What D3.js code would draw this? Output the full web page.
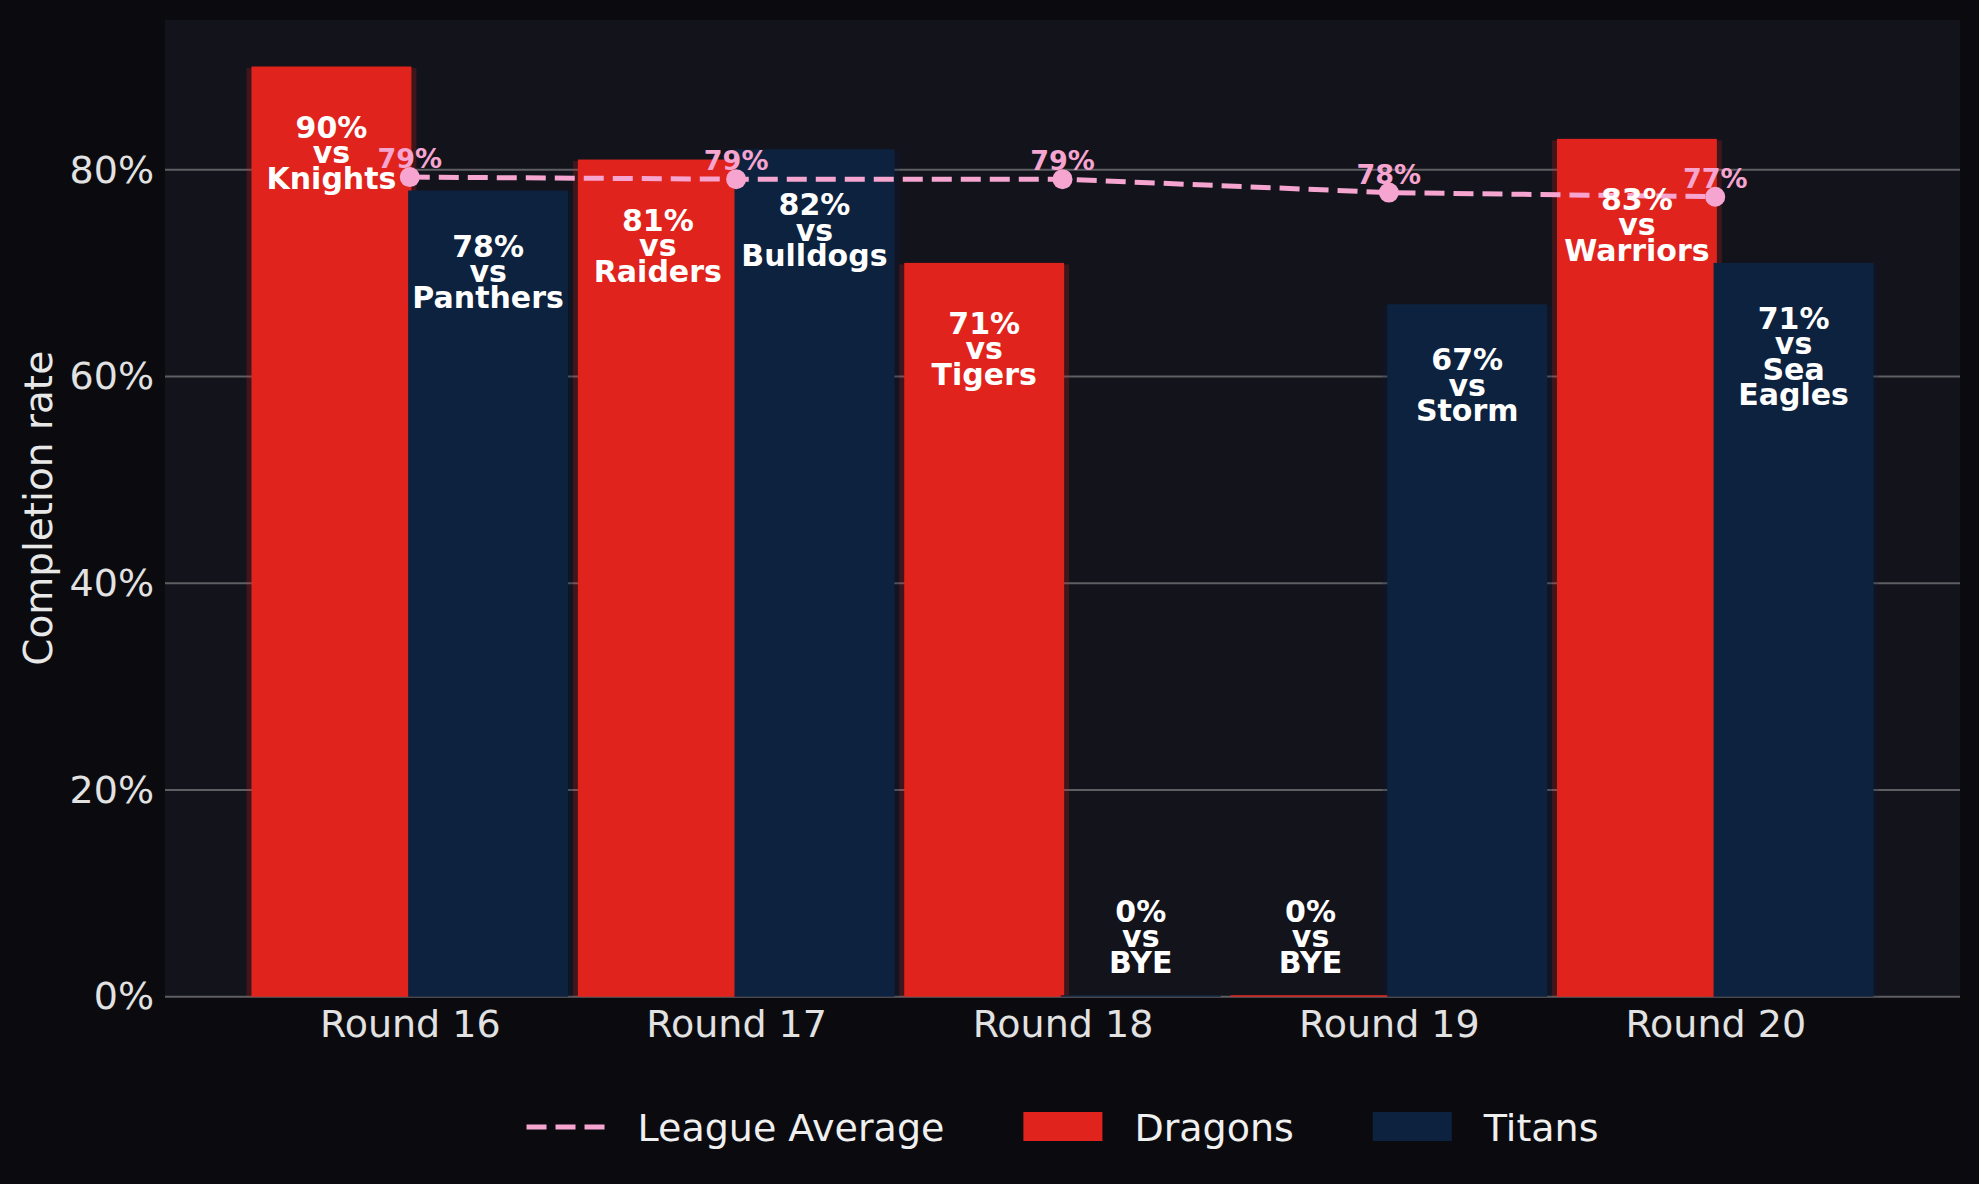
<!DOCTYPE html>
<html>
<head>
<meta charset="utf-8">
<script src="https://cdn.jsdelivr.net/npm/d3@7"></script>
<style>
  html, body { margin: 0; padding: 0; background: #0b0b0f; }
  svg { display: block; font-family: 'DejaVu Sans', sans-serif; }
</style>
</head>
<body>
<div id="chart"></div>
<script>
// datos del grafico
const rounds = ['Round 16', 'Round 17', 'Round 18', 'Round 19', 'Round 20']
const dragons = [90, 81, 71, 0, 83]
const titans = [78, 82, 0, 67, 71]
const dragonsOpp = ['Knights', 'Raiders', 'Tigers', 'BYE', 'Warriors']
const titansOpp = ['Panthers', 'Bulldogs', 'BYE', 'Storm', 'Sea Eagles']
const leagueAvg = [79.3, 79.1, 79.1, 77.8, 77.4]
const yTicks = [0, 20, 40, 60, 80]

// constantes
const width = 1979
const height = 1184
const plot = { left: 165, right: 1960, top: 20, bottom: 996.7 }
const red = '#e0231c'
const navy = '#0d223e'
const pink = '#f5a5cf'
const barWidth = 0.49
const offset = 0.24

const svg = d3.select('#chart')
    .append('svg')
    .attr('width', width)
    .attr('height', height)

svg.append('rect')
    .attr('width', width)
    .attr('height', height)
    .attr('fill', '#0b0b0f')

// escalas
const x = d3.scaleLinear()
    .domain([-0.75, 4.75])
    .range([plot.left, plot.right])

const y = d3.scaleLinear()
    .domain([0, 94.5])
    .range([plot.bottom, plot.top])

// fondo del area
svg.append('rect')
    .attr('x', plot.left)
    .attr('y', plot.top)
    .attr('width', plot.right - plot.left)
    .attr('height', plot.bottom - plot.top)
    .attr('fill', '#12131b')

// lineas de la rejilla
svg.append('g')
    .selectAll('line')
    .data(yTicks)
    .enter()
    .append('line')
    .attr('x1', plot.left)
    .attr('x2', plot.right)
    .attr('y1', d => y(d))
    .attr('y2', d => y(d))
    .attr('stroke', '#5f5f63')
    .attr('stroke-width', 2)

// ejes
const axisY = d3.axisLeft(y)
    .tickValues(yTicks)
    .tickFormat(d => d + '%')
    .tickSize(0)
    .tickPadding(11)

const gY = svg.append('g')
    .attr('transform', `translate(${plot.left}, 0)`)
    .call(axisY)

const axisX = d3.axisBottom(x)
    .tickValues(d3.range(rounds.length))
    .tickFormat(i => rounds[i])
    .tickSize(0)
    .tickPadding(13)

const gX = svg.append('g')
    .attr('transform', `translate(0, ${plot.bottom})`)
    .call(axisX)

;[gX, gY].forEach(g => {
    g.select('.domain').remove()
    g.selectAll('text')
        .attr('font-size', 38)
        .attr('font-family', 'DejaVu Sans')
        .attr('fill', '#e2e2e2')
})

svg.append('text')
    .attr('transform', `translate(52, ${(plot.top + plot.bottom) / 2}) rotate(-90)`)
    .attr('text-anchor', 'middle')
    .attr('font-size', 39)
    .attr('fill', '#e8e8e8')
    .text('Completion rate')

// barras
const series = [
    { name: 'Dragons', values: dragons, opp: dragonsOpp, color: red, shift: -offset, labelOff: 71 },
    { name: 'Titans', values: titans, opp: titansOpp, color: navy, shift: offset, labelOff: 66 }
]

const bw = x(barWidth) - x(0)

// sombras primero
series.forEach(s => {
    svg.append('g')
        .selectAll('rect')
        .data(s.values)
        .enter()
        .append('rect')
        .attr('x', (d, i) => x(i + s.shift) - bw / 2 - 5)
        .attr('y', d => y(d) + 1.5)
        .attr('width', bw + 10)
        .attr('height', d => Math.max(0, plot.bottom - y(d) - 1.5))
        .attr('fill', s.color)
        .attr('opacity', 0.22)
})

series.forEach(s => {
    svg.append('g')
        .selectAll('rect')
        .data(s.values)
        .enter()
        .append('rect')
        .attr('x', (d, i) => x(i + s.shift) - bw / 2)
        .attr('y', d => d > 0 ? y(d) : plot.bottom - 1.5)
        .attr('width', bw)
        .attr('height', d => d > 0 ? plot.bottom - y(d) : 1.5)
        .attr('fill', s.color)
})

// linea de la media
const line = d3.line()
    .x((d, i) => x(i))
    .y(d => y(d))

svg.append('path')
    .datum(leagueAvg)
    .attr('d', line)
    .attr('fill', 'none')
    .attr('stroke', pink)
    .attr('stroke-width', 5)
    .attr('stroke-dasharray', '20,9')

svg.append('g')
    .selectAll('circle')
    .data(leagueAvg)
    .enter()
    .append('circle')
    .attr('cx', (d, i) => x(i))
    .attr('cy', d => y(d))
    .attr('r', 10)
    .attr('fill', pink)

svg.append('g')
    .selectAll('text')
    .data(leagueAvg)
    .enter()
    .append('text')
    .attr('x', (d, i) => x(i))
    .attr('y', d => y(d) - 9)
    .attr('text-anchor', 'middle')
    .attr('font-size', 27)
    .attr('font-weight', 'bold')
    .attr('fill', pink)
    .text(d => Math.round(d) + '%')

// etiquetas de las barras
series.forEach(s => {
    const labels = svg.append('g')
        .selectAll('text')
        .data(s.values)
        .enter()
        .append('text')
        .attr('text-anchor', 'middle')
        .attr('font-size', 30)
        .attr('font-weight', 'bold')
        .attr('fill', '#ffffff')
        .attr('transform', (d, i) => {
            const top = d > 0 ? y(d) + s.labelOff : plot.bottom - 75
            return `translate(${x(i + s.shift)}, ${top})`
        })

    labels.each(function (d, i) {
        const lines = [d + '%', 'vs'].concat(s.opp[i].split(' '))
        d3.select(this)
            .selectAll('tspan')
            .data(lines)
            .enter()
            .append('tspan')
            .attr('x', 0)
            .attr('y', (t, k) => k * 25.5)
            .text(t => t)
    })
})

// leyenda
const legend = svg.append('g')
const items = [
    { label: 'League Average', type: 'line', color: pink },
    { label: 'Dragons', type: 'rect', color: red },
    { label: 'Titans', type: 'rect', color: navy }
]
const handleW = 79
const handleGap = 32
const itemGap = 79
const legendY = 1127

let cursor = 0
items.forEach(it => {
    const g = legend.append('g').attr('transform', `translate(${cursor}, 0)`)
    if (it.type === 'line') {
        g.append('line')
            .attr('x1', 0)
            .attr('x2', handleW)
            .attr('y1', 0)
            .attr('y2', 0)
            .attr('stroke', it.color)
            .attr('stroke-width', 5)
            .attr('stroke-dasharray', '20,9')
    } else {
        g.append('rect')
            .attr('x', 0)
            .attr('y', -15)
            .attr('width', handleW)
            .attr('height', 29)
            .attr('fill', it.color)
    }
    const t = g.append('text')
        .attr('x', handleW + handleGap)
        .attr('y', 14)
        .attr('font-size', 38)
        .attr('fill', '#f0f0f0')
        .text(it.label)
    cursor += handleW + handleGap + t.node().getComputedTextLength() + itemGap
})
const legendW = cursor - itemGap
legend.attr('transform', `translate(${(plot.left + plot.right) / 2 - legendW / 2}, ${legendY})`)
</script>
</body>
</html>
